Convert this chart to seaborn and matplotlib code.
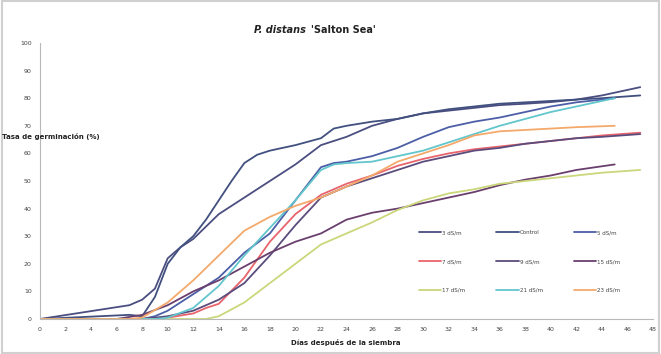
import numpy as np
import pandas as pd
import matplotlib
matplotlib.use("Agg")
import matplotlib.pyplot as plt
import seaborn as sns
from matplotlib.patches import Rectangle

# ---------------- data ----------------
labels = ["3 dS/m", "Control", "5 dS/m", "7 dS/m", "9 dS/m", "15 dS/m",
          "17 dS/m", "21 dS/m", "23 dS/m"]

d_3 = [0, 7, 8, 9, 10, 11, 12, 14, 16, 18, 20, 22, 24, 26, 28, 30, 32, 34, 36, 38, 40, 42, 44, 47]
v_3 = [0, 5, 7, 11, 22, 26, 29, 38, 44, 50, 56, 63, 66, 70, 72.5, 74.5, 75.5, 76.5, 77.5, 78, 78.6, 79.5, 81, 84]

d_ctrl = [0, 7, 8, 9, 10, 11, 12, 13, 14, 15, 16, 17, 18, 20, 22, 23, 24, 26, 28, 30, 32, 34, 36, 38, 40, 42, 44, 47]
v_ctrl = [0, 1.5, 1, 8, 20, 26, 30, 36, 43, 50, 56.5, 59.5, 61, 63, 65.5, 69, 70, 71.5, 72.5, 74.5, 76, 77, 78, 78.5, 79, 79.5, 80, 81]

d_5 = [0, 8, 9, 10, 11, 12, 14, 16, 18, 20, 22, 23, 24, 26, 28, 30, 32, 34, 36, 38, 40, 42, 45]
v_5 = [0, 0, 1, 3, 6, 9, 15, 24, 31, 43, 55, 56.5, 57, 59, 62, 66, 69.5, 71.5, 73, 75, 77, 78.5, 80]

d_7 = [0, 8, 10, 12, 13, 14, 16, 18, 20, 22, 24, 26, 28, 30, 32, 34, 36, 38, 40, 42, 44, 47]
v_7 = [0, 0, 0.5, 2, 4, 5.5, 15, 28, 38, 45, 49, 52, 55.5, 58, 60, 61.5, 62.5, 63.5, 64.5, 65.5, 66.5, 67.5]

d_9 = [0, 8, 10, 12, 14, 16, 18, 20, 22, 24, 26, 28, 30, 32, 34, 36, 38, 40, 42, 44, 47]
v_9 = [0, 0, 1, 3, 7, 13, 23, 34, 44, 48, 51, 54, 57, 59, 61, 62, 63.5, 64.5, 65.5, 66, 67]

d_15 = [0, 6, 8, 10, 12, 14, 16, 18, 20, 22, 24, 26, 28, 30, 32, 34, 36, 38, 40, 42, 45]
v_15 = [0, 0, 1.5, 5, 10, 14, 19, 24, 28, 31, 36, 38.5, 40, 42, 44, 46, 48.5, 50.5, 52, 54, 56]

d_17 = [0, 13, 14, 16, 18, 20, 22, 24, 26, 28, 30, 32, 34, 36, 38, 40, 42, 44, 47]
v_17 = [0, 0, 1, 6, 13, 20, 27, 31, 35, 39.5, 43, 45.5, 47, 49, 50, 51, 52, 53, 54]

d_21 = [0, 9, 10, 12, 14, 16, 18, 20, 22, 23, 24, 26, 28, 30, 32, 34, 36, 38, 40, 42, 45]
v_21 = [0, 0, 0.5, 4, 12, 23, 33, 43, 54, 56, 56.5, 57, 59, 61, 64, 67, 70, 72.5, 75, 77, 80]

d_23 = [0, 7, 8, 10, 12, 14, 16, 18, 20, 22, 24, 26, 28, 30, 32, 34, 36, 38, 40, 42, 45]
v_23 = [0, 0, 0.5, 6, 14, 23, 32, 37, 41, 44, 48, 52, 57, 60, 63, 66.5, 68, 68.5, 69, 69.5, 70]

series_days = [d_3, d_ctrl, d_5, d_7, d_9, d_15, d_17, d_21, d_23]
series_vals = [v_3, v_ctrl, v_5, v_7, v_9, v_15, v_17, v_21, v_23]

colors = ["#4B4E80", "#41507E", "#4C5FA6", "#E8646C", "#5A4C7C", "#6A3F6E",
          "#CBD77A", "#62C6CC", "#F4A96A"]

x_ticks = list(range(0, 49, 2))
y_ticks = list(range(0, 101, 10))

# ---------------- build frame ----------------
rows = []
for lab, dd, vv in zip(labels, series_days, series_vals):
    for d, v in zip(dd, vv):
        rows.append({"dia": d, "tasa": v, "serie": lab})
df = pd.DataFrame(rows)

sns.set_theme(style="white")
plt.rcParams["font.family"] = ["DejaVu Sans"]

fig = plt.figure(figsize=(6.61, 3.54), dpi=100)
ax = fig.add_axes([40 / 661, 35 / 354, 613 / 661, 276 / 354])

sns.lineplot(data=df, x="dia", y="tasa", hue="serie", hue_order=labels,
             palette=dict(zip(labels, colors)), linewidth=1.3, ax=ax,
             estimator=None, sort=True)

ax.set_xlim(0, 48)
ax.set_ylim(0, 100)
ax.set_xticks(x_ticks)
ax.set_yticks(y_ticks)
ax.tick_params(axis="both", labelsize=4.5, colors="#444444", length=0, pad=6)
for s in ["top", "right"]:
    ax.spines[s].set_visible(False)
for s in ["left", "bottom"]:
    ax.spines[s].set_color("#B8B8B8")
    ax.spines[s].set_linewidth(0.8)
ax.set_xlabel("")
ax.set_ylabel("")

fig.text(346 / 661, 1 - 343 / 354, "Días después de la siembra", ha="center",
         va="center", fontsize=5, fontweight="bold", color="#222222")
fig.text(2 / 661, 1 - 137 / 354, "Tasa de germinación (%)", ha="left",
         va="center", fontsize=5, fontweight="bold", color="#222222")

fig.text(306 / 661, 1 - 30 / 354, "P. distans", ha="right", va="center",
         fontsize=7, fontweight="bold", style="italic", color="#222222")
fig.text(311 / 661, 1 - 30 / 354, "'Salton Sea'", ha="left", va="center",
         fontsize=7, fontweight="bold", color="#222222")

handles, labs = ax.get_legend_handles_labels()
order = [0, 3, 6, 1, 4, 7, 2, 5, 8]
leg = ax.legend([handles[i] for i in order], [labs[i] for i in order],
                ncol=3, loc="upper left", bbox_to_anchor=(0.61, 0.34),
                frameon=False, fontsize=4, handlelength=4, columnspacing=5.6,
                labelspacing=4.3, handletextpad=0.2)
for t in leg.get_texts():
    t.set_color("#444444")

fig.patches.append(Rectangle((0.003, 0.003), 0.994, 0.994, transform=fig.transFigure,
                             fill=False, edgecolor="#D0D0D0", linewidth=1.5))

fig.savefig("out.png", dpi=100)
